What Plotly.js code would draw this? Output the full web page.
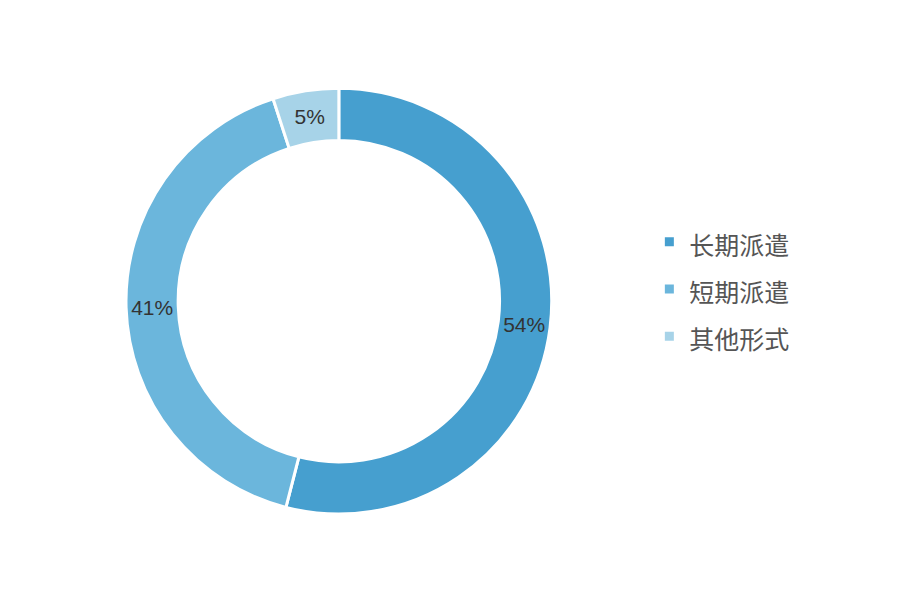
<!DOCTYPE html>
<html>
<head>
<meta charset="utf-8">
<script src="https://cdn.plot.ly/plotly-3.0.1.min.js"></script>
<style>
  html, body { margin: 0; padding: 0; background: #fff; }
  #chart { width: 900px; height: 600px; }
</style>
</head>
<body>
<div id="chart"></div>
<script>
// dispatch type share
const labels = ["长期派遣", "短期派遣", "其他形式"];
const shares = [54, 41, 5];
const colors = ["#469fcf", "#6bb6dc", "#a7d3e8"];

// legend font is set big to space the rows, the label itself is drawn smaller
const legendLabels = labels.map(l => '<span style="font-size:25px">' + l + '</span>');

const trace = {
    type: "pie",
    labels: legendLabels,
    values: shares,
    hole: 0.755,
    sort: false,
    direction: "clockwise",
    rotation: 0,
    textinfo: "percent",
    textposition: "inside",
    insidetextorientation: "horizontal",
    texttemplate: "%{value}%",
    textfont: { family: "Liberation Sans, Noto Sans CJK SC", size: 21, color: "#333" },
    marker: { colors: colors, line: { color: "#fff", width: 3 } },
    domain: { x: [0.14, 0.613], y: [0.143, 0.853] },
    hoverinfo: "percent"
};

Plotly.newPlot("chart", [trace], {
    width: 900,
    height: 600,
    margin: { l: 0, r: 0, t: 0, b: 0 },
    paper_bgcolor: "#fff",
    showlegend: true,
    legend: {
        x: 0.7215,
        y: 0.518,
        xanchor: "left",
        yanchor: "middle",
        font: { family: "Noto Sans CJK SC", size: 34, color: "#555" },
        itemwidth: 30
    }
}, { displayModeBar: false });
</script>
</body>
</html>
